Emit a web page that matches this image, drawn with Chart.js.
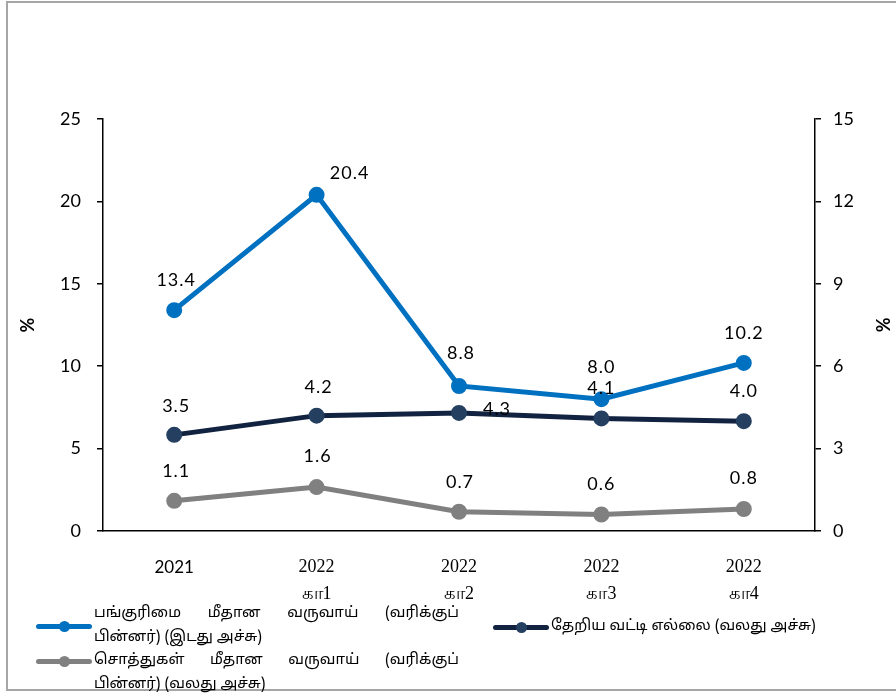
<!DOCTYPE html>
<html>
<head>
<meta charset="utf-8">
<script src="https://cdn.jsdelivr.net/npm/chart.js@4.4.1/dist/chart.umd.min.js"></script>
<style>
  html, body { margin: 0; padding: 0; background: #fff; }
  #wrap { position: relative; width: 896px; height: 694px; overflow: hidden; }
  #frame { position: absolute; left: 6px; top: 1px; width: 900px; height: 686px; border: 2px solid #a6a6a6; box-sizing: content-box; }
  canvas { position: absolute; left: 0; top: 0; }
  .leg { position: absolute; font-family: "Noto Sans Tamil", "Lohit Tamil", "Noto Sans", "DejaVu Sans", sans-serif; font-size: 15px; color: #000; }
  .sample { position: absolute; height: 5px; border-radius: 3px; }
  .dot { position: absolute; width: 11px; height: 11px; border-radius: 50%; }
  .txt { position: absolute; text-align: justify; text-align-last: left; line-height: 24px; }
</style>
</head>
<body>
<div id="wrap">
  <div id="frame"></div>
  <canvas id="c" width="896" height="694"></canvas>
  <div id="legend"></div>
</div>
<script>
// ---- data ----
const categories = ["2021", ["2022", "கா1"], ["2022", "கா2"], ["2022", "கா3"], ["2022", "கா4"]];
const roeValues = [13.4, 20.4, 8.8, 8.0, 10.2];        // left axis
const policyRateValues = [3.5, 4.2, 4.3, 4.1, 4.0];     // right axis
const roaValues = [1.1, 1.6, 0.7, 0.6, 0.8];            // right axis
const leftTicks = [0, 5, 10, 15, 20, 25];
const rightTicks = [0, 3, 6, 9, 12, 15];
const seriesNames = [
  "பங்குரிமை மீதான வருவாய் (வரிக்குப் பின்னர்) (இடது அச்சு)",
  "தேறிய வட்டி எல்லை (வலது அச்சு)",
  "சொத்துகள் மீதான வருவாய் (வரிக்குப் பின்னர்) (வலது அச்சு)"
];

// ---- styles ----
const colBlue = "#0070C0", colNavy = "#112340", colNavyPt = "#243F60", colGray = "#808080";
const labelOffsets = [
  [[2, -30], [33, -22], [2, -33], [0, -32], [0, -30]],
  [[2, -29], [2, -28], [38, -4], [0, -30], [0, -30]],
  [[2, -30], [1, -31], [1, -30], [0, -30], [0, -31]]
];
const numFont = "Lato, 'Open Sans', sans-serif";

const dataLabels = {
  id: "dataLabels",
  afterDatasetsDraw(chart) {
    const ctx = chart.ctx;
    ctx.save();
    ctx.font = "18px " + numFont;
    if ("letterSpacing" in ctx) ctx.letterSpacing = "1px";
    ctx.fillStyle = "#000";
    ctx.textAlign = "center";
    ctx.textBaseline = "middle";
    chart.data.datasets.forEach((ds, di) => {
      const meta = chart.getDatasetMeta(di);
      meta.data.forEach((pt, i) => {
        const off = labelOffsets[di][i];
        ctx.fillText(ds.data[i].toFixed(1), pt.x + off[0], pt.y + off[1]);
      });
    });
    ctx.restore();
  }
};

const chart = new Chart(document.getElementById("c"), {
  type: "line",
  data: {
    labels: categories,
    datasets: [
      { label: seriesNames[0], data: roeValues, yAxisID: "y", borderColor: colBlue, backgroundColor: colBlue,
        pointBackgroundColor: colBlue, pointBorderColor: colBlue, borderWidth: 5, pointRadius: 5.5, order: 1 },
      { label: seriesNames[1], data: policyRateValues, yAxisID: "y1", borderColor: colNavy, backgroundColor: colNavyPt,
        pointBackgroundColor: colNavyPt, pointBorderColor: colNavyPt, borderWidth: 5, pointRadius: 5.5, order: 2 },
      { label: seriesNames[2], data: roaValues, yAxisID: "y1", borderColor: colGray, backgroundColor: colGray,
        pointBackgroundColor: colGray, pointBorderColor: colGray, borderWidth: 5, pointRadius: 5.5, order: 3 }
    ]
  },
  options: {
    responsive: false,
    animation: false,
    events: [],
    layout: { padding: { top: 119, left: 0, right: 0, bottom: 0 } },
    plugins: { legend: { display: false }, tooltip: { enabled: false } },
    scales: {
      x: {
        offset: true,
        grid: { display: true, drawOnChartArea: false, drawTicks: false },
        border: { display: true, color: "#000", width: 1.5 },
        ticks: {
          color: "#000", padding: 23, maxRotation: 0, autoSkip: false,
          font: (c) => c.index === 0 ? { family: numFont, size: 17, lineHeight: 1.55 }
                                     : { family: "'Liberation Serif', 'Times New Roman', serif", size: 18, lineHeight: 1.5 }
        },
        afterFit: (s) => { s.height = 163; }
      },
      y: {
        position: "left", min: 0, max: 25,
        afterBuildTicks: (s) => { s.ticks = leftTicks.map(v => ({ value: v })); },
        grid: { display: true, drawOnChartArea: false, drawTicks: true, tickLength: 6, color: "#000", lineWidth: 1.5 },
        border: { display: true, color: "#000", width: 1.5 },
        ticks: { color: "#000", padding: 16, font: { family: numFont, size: 18 } },
        title: { display: true, text: "%", color: "#000", font: { family: numFont, size: 18, weight: "bold" }, padding: { top: 17 } },
        afterFit: (s) => { s.width = 103; }
      },
      y1: {
        position: "right", min: 0, max: 15,
        afterBuildTicks: (s) => { s.ticks = rightTicks.map(v => ({ value: v })); },
        grid: { display: true, drawOnChartArea: false, drawTicks: true, tickLength: 6, color: "#000", lineWidth: 1.5 },
        border: { display: true, color: "#000", width: 1.5 },
        ticks: { color: "#000", padding: 12, font: { family: numFont, size: 18 } },
        title: { display: true, text: "%", color: "#000", font: { family: numFont, size: 18, weight: "bold" }, padding: { top: 3 } },
        afterFit: (s) => { s.width = 81; }
      }
    }
  },
  plugins: [dataLabels]
});

// ---- HTML legend built from the datasets ----
const legendLayout = [
  { left: 36, top: 602, width: 365, lineY: 24 },
  { left: 493, top: 615, width: 330, lineY: 12 },
  { left: 36, top: 649, width: 365, lineY: 12 }
];
const legendEl = document.getElementById("legend");
chart.data.datasets.forEach((ds, i) => {
  const L = legendLayout[i];
  const item = document.createElement("div");
  item.className = "leg";
  item.style.left = L.left + "px";
  item.style.top = L.top + "px";
  const bar = document.createElement("div");
  bar.className = "sample";
  bar.style.left = "0px"; bar.style.width = "56px"; bar.style.top = (L.lineY - 2) + "px";
  bar.style.background = ds.borderColor;
  const dot = document.createElement("div");
  dot.className = "dot";
  dot.style.left = "23px"; dot.style.top = (L.lineY - 5) + "px";
  dot.style.background = ds.pointBackgroundColor;
  const txt = document.createElement("div");
  txt.className = "txt";
  txt.style.left = "58px"; txt.style.top = "0px"; txt.style.width = L.width + "px";
  txt.textContent = ds.label;
  item.appendChild(bar); item.appendChild(dot); item.appendChild(txt);
  legendEl.appendChild(item);
});
</script>
</body>
</html>
